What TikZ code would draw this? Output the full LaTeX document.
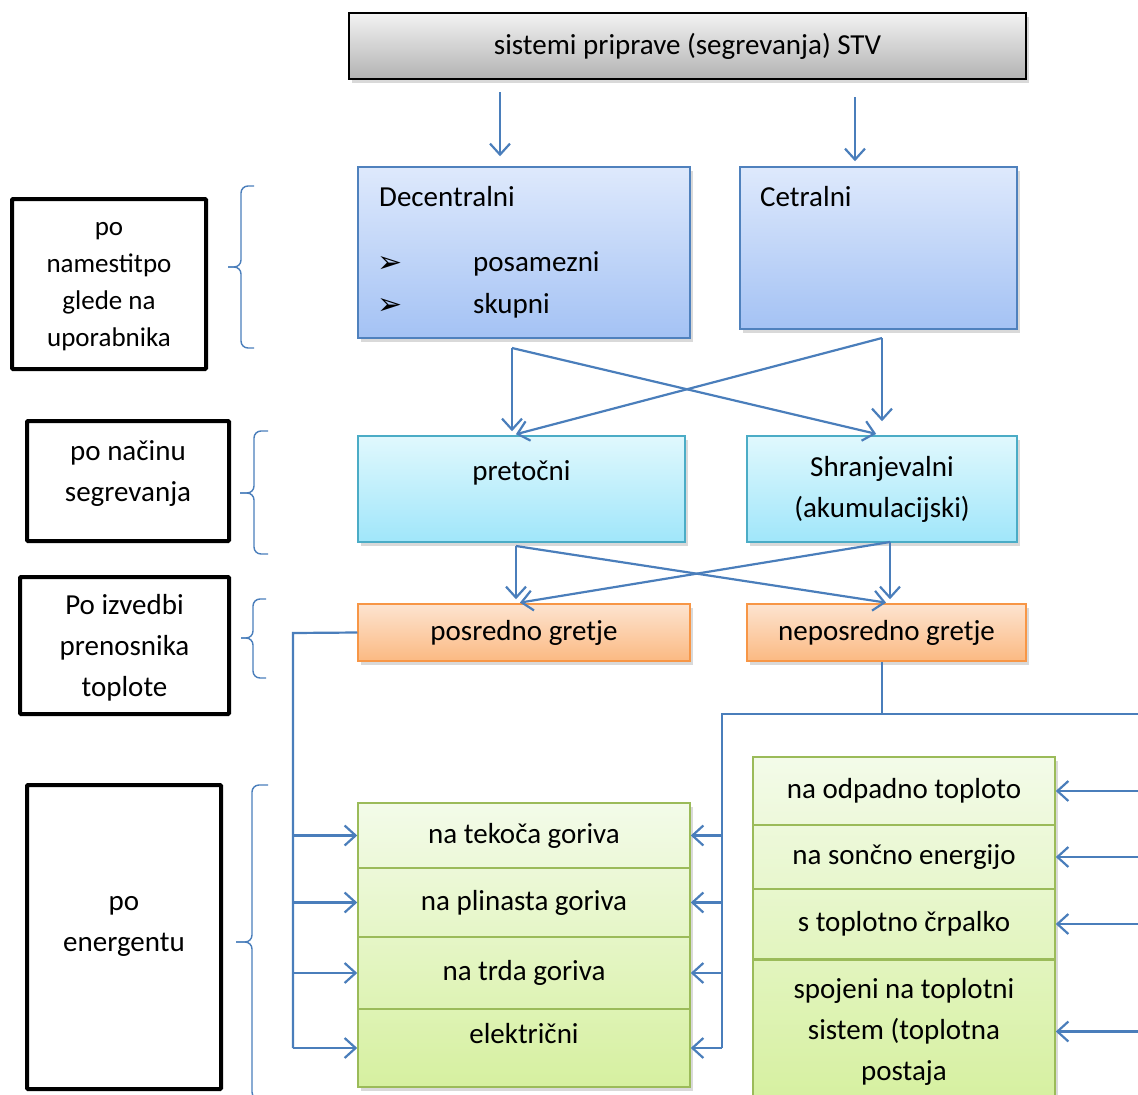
\documentclass[tikz,border=0pt]{standalone}
\usepackage{fontspec}
\setmainfont{Carlito}
\newfontfamily\symfont{DejaVu Sans}
\usetikzlibrary{arrows.meta,positioning,calc,shadows}
\definecolor{LineBlue}{RGB}{74,126,187}
\definecolor{GrayTop}{RGB}{243,243,243}
\definecolor{GrayBot}{RGB}{178,178,178}
\definecolor{BlueTop}{RGB}{222,233,252}
\definecolor{BlueBot}{RGB}{164,194,244}
\definecolor{BlueEdge}{RGB}{79,129,189}
\definecolor{CyanTop}{RGB}{224,248,253}
\definecolor{CyanBot}{RGB}{160,230,250}
\definecolor{CyanEdge}{RGB}{75,172,198}
\definecolor{OrangeTop}{RGB}{253,228,208}
\definecolor{OrangeBot}{RGB}{251,185,130}
\definecolor{OrangeEdge}{RGB}{247,150,70}
\definecolor{GreenTop}{RGB}{243,251,233}
\definecolor{GreenBot}{RGB}{214,240,160}
\definecolor{GreenEdge}{RGB}{155,187,89}

\begin{document}
\begin{tikzpicture}[x=1pt,y=-1pt,>={Straight Barb[length=11pt,width=20pt]},every node/.style={font=\fontsize{29}{41}\selectfont,inner sep=0pt}]
\tikzset{shadowed/.style={drop shadow={opacity=0.3,shadow xshift=3pt,shadow yshift=-4pt}},
topbox/.style={draw=black,line width=1.5pt,top color=GrayTop,bottom color=GrayBot,shadowed,minimum width=677pt,minimum height=66pt},
bluebox/.style={draw=BlueEdge,line width=1.5pt,top color=BlueTop,bottom color=BlueBot,shadowed},
cyanbox/.style={draw=CyanEdge,line width=1.5pt,top color=CyanTop,bottom color=CyanBot,shadowed,minimum height=106pt,align=center},
orangebox/.style={draw=OrangeEdge,line width=1.5pt,top color=OrangeTop,bottom color=OrangeBot,shadowed,minimum height=57pt},
greenstack/.style={draw=GreenEdge,line width=1.5pt,top color=GreenTop,bottom color=GreenBot,shadowed},
greenrow/.style={draw=GreenEdge,line width=1.5pt,align=center},
lbl/.style={draw=black,line width=4pt,rounded corners=1pt,align=center},
conn/.style={draw=LineBlue,line width=2.2pt},
arr/.style={conn,->},
brc/.style={draw=LineBlue,line width=1.4pt,rounded corners=7pt}}
\path[use as bounding box,clip] (0,0) rectangle (1138,1095);

% glavni okvir
\node[topbox] (stv) at (687.5,46) {sistemi priprave (segrevanja) STV};

% po namestitvi
\node[bluebox,minimum width=332pt,minimum height=171pt] (dec) at (524,252.5) {};
\node[bluebox,minimum width=277pt,minimum height=162pt] (cet) at (878.5,248) {};
\node[anchor=west] (dectxt) at (379,197) {Decentralni};
\node (bul1) at (390,264) {\symfont\fontsize{30}{30}\selectfont ➢};
\node (bul2) at (390,306) {\symfont\fontsize{30}{30}\selectfont ➢};
\node[anchor=west] (posam) at (473,264) {posamezni};
\node[anchor=west] (skup) at (473,306) {skupni};
\node[anchor=west] (cettxt) at (760,197) {Cetralni};

% po nacinu segrevanja
\node[cyanbox,minimum width=327pt,text depth=36pt] (pret) at (521.5,489) {pretočni};
\node[cyanbox,minimum width=270pt] (shran) at (882,489) {Shranjevalni\\(akumulacijski)};

% po izvedbi prenosnika
\node[orangebox,minimum width=332pt] (posr) at (524,632.5) {posredno gretje};
\node[orangebox,minimum width=279pt] (neposr) at (886.5,632.5) {neposredno gretje};

% po energentu
\node[greenstack,minimum width=332pt,minimum height=284pt] (lstack) at (524,945) {};
\node[greenrow,minimum width=332pt,minimum height=65pt] (tek) at (524,835.5) {na tekoča goriva};
\node[greenrow,minimum width=332pt,minimum height=69pt] (plin) at (524,902.5) {na plinasta goriva};
\node[greenrow,minimum width=332pt,minimum height=72pt] (trda) at (524,973) {na trda goriva};
\node[greenrow,minimum width=332pt,minimum height=78pt,text depth=30pt] (elek) at (524,1048) {električni};
\node[greenstack,minimum width=302pt,minimum height=345pt] (rstack) at (904,929.5) {};
\node[greenrow,minimum width=302pt,minimum height=68pt] (odp) at (904,791) {na odpadno toploto};
\node[greenrow,minimum width=302pt,minimum height=64pt] (son) at (904,857) {na sončno energijo};
\node[greenrow,minimum width=302pt,minimum height=70pt] (crp) at (904,924) {s toplotno črpalko};
\node[greenrow,minimum width=302pt,minimum height=143pt] (spoj) at (904,1031.5) {spojeni na toplotni\\sistem (toplotna\\postaja};

% oznake na levi
\node[lbl,minimum width=194pt,minimum height=170pt,text depth=-9pt,font=\fontsize{27}{37}\selectfont] (lbl1) at (109,284) {po\\namestitpo\\glede na\\uporabnika};
\node[lbl,minimum width=202pt,minimum height=120pt,text depth=20pt] (lbl2) at (128,481) {po načinu\\segrevanja};
\node[lbl,minimum width=209pt,minimum height=137pt,text depth=-2pt] (lbl3) at (124.5,645.5) {Po izvedbi\\prenosnika\\toplote};
\node[lbl,minimum width=194pt,minimum height=304pt,text depth=26pt] (lbl4) at (124,937) {po\\energentu};

% zavite oklepaje
\draw[brc] (254,186) -- (241,186) -- (241,267) -- (228,267);
\draw[brc] (254,348) -- (241,348) -- (241,267) -- (228,267);
\draw[brc] (268,431) -- (254,431) -- (254,493) -- (240,493);
\draw[brc] (268,554) -- (254,554) -- (254,493) -- (240,493);
\draw[brc] (266,599) -- (253,599) -- (253,638) -- (241,638);
\draw[brc] (266,678) -- (253,678) -- (253,638) -- (241,638);
\draw[brc] (268,785) -- (252,785) -- (252,942) -- (236,942);
\draw[brc] (268,1099) -- (252,1099) -- (252,942) -- (236,942);

% puscice
\coordinate (s1) at (500,92);
\coordinate (s2) at (855,97);
\draw[arr,shorten >=10pt] (s1) -- (s1 |- dec.north);
\draw[arr,shorten >=5pt] (s2) -- (s2 |- cet.north);

\coordinate (x1) at (512,348);
\coordinate (x2) at (882,338);
\draw[arr,shorten >=4pt] (x1) -- (x1 |- pret.north);
\draw[arr,shorten >=14pt] (x2) -- (x2 |- shran.north);
\draw[arr,shorten >=6pt] (x1) -- (x2 |- shran.north);
\draw[arr,shorten >=4pt] (x2) -- (x1 |- pret.north);

\coordinate (y1) at (516,546);
\coordinate (y2) at (890,542);
\draw[arr,shorten >=4pt] (y1) -- (y1 |- posr.north);
\draw[arr,shorten >=4pt] (y2) -- (y2 |- neposr.north);
\draw[arr,shorten >=4pt] (y1) -- (y2 |- neposr.north);
\draw[arr,shorten >=4pt] (y2) -- (y1 |- posr.north);

\coordinate (lt) at (293,633);
\draw[conn] (posr.west) -- (lt) -- (lt |- elek.west);
\foreach \r in {tek,plin,trda,elek} \draw[arr] (lt |- \r.west) -- (\r.west);

\coordinate (rj) at (882,714);
\coordinate (rt) at (722,714);
\coordinate (re) at (1140,714);
\draw[conn] (rj |- neposr.south) -- (rj);
\draw[conn] (re) -- (rt) -- (rt |- elek.east);
\foreach \r in {tek,plin,trda,elek} \draw[arr] (rt |- \r.east) -- (\r.east);
\foreach \r in {odp,son,crp,spoj} \draw[arr] (re |- \r.east) -- (\r.east);
\end{tikzpicture}
\end{document}
